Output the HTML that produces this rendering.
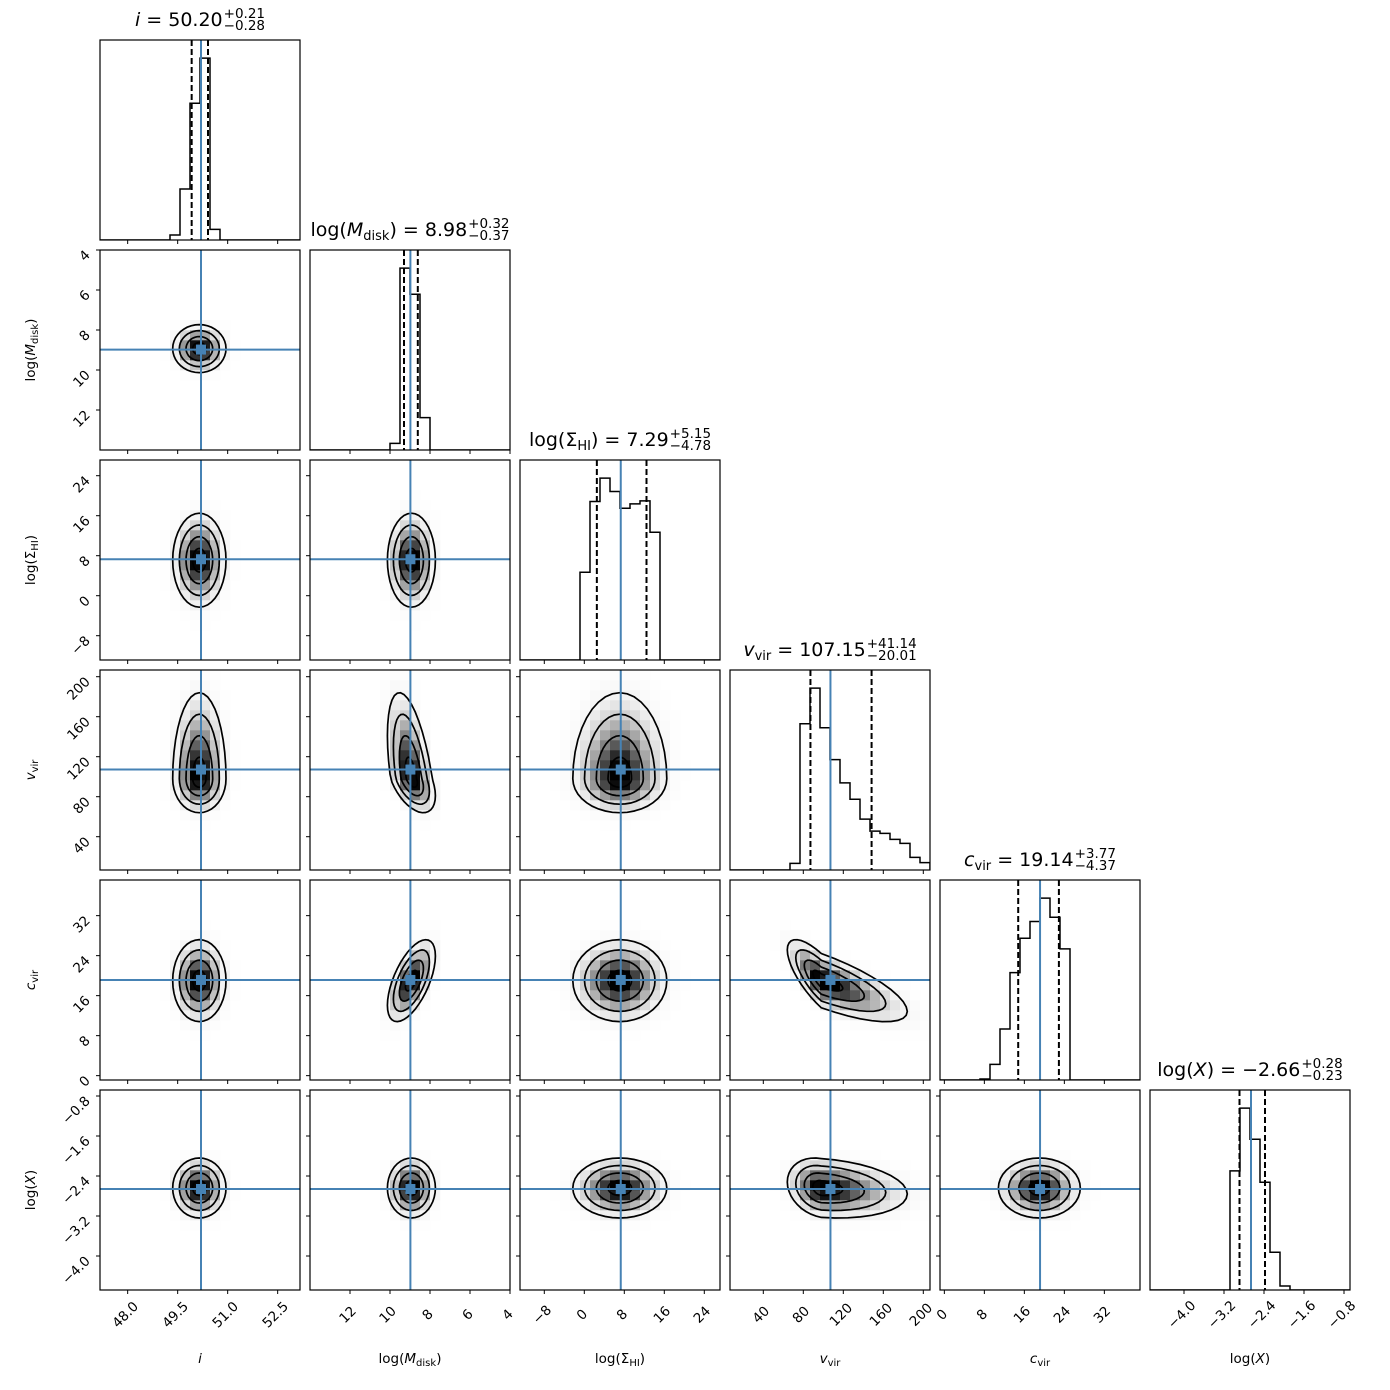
<!DOCTYPE html>
<html><head><meta charset="utf-8">
<style>
html,body{margin:0;padding:0;background:#fff;}
#wrap{position:relative;width:1390px;height:1390px;overflow:hidden;font-family:"DejaVu Sans","Liberation Sans",sans-serif;}
svg{position:absolute;left:0;top:0;}
.title{position:absolute;width:200px;display:flex;justify-content:center;align-items:center;font-size:19px;color:#000;white-space:nowrap;}
.stack{display:inline-flex;flex-direction:column;font-size:13.5px;line-height:12px;margin-left:1px;}
.title sub{font-size:13px;vertical-align:-4px;line-height:0;}
</style></head>
<body>
<div id="wrap">
<svg id="svg" width="1390" height="1390"></svg>
</div>
<script>
// ---- data ----
const paramNames = ["i","log_Mdisk","log_SigmaHI","v_vir","c_vir","log_X"];
const medians = [50.20, 8.98, 7.29, 107.15, 19.14, -2.66];
const errPlus = [0.21, 0.32, 5.15, 41.14, 3.77, 0.28];
const errMinus = [0.28, 0.37, 4.78, 20.01, 4.37, 0.23];
const axisLo = [47.17, 14, -12.86, 6.7, -0.87, -4.68];
const axisHi = [53.17, 4, 27.14, 206.7, 39.13, -0.68];
const ticksI = [48.0, 49.5, 51.0, 52.5];
const ticksMdisk = [12, 10, 8, 6, 4];
const ticksSigma = [-8, 0, 8, 16, 24];
const ticksVvir = [40, 80, 120, 160, 200];
const ticksCvir = [0, 8, 16, 24, 32];
const ticksX = [-4.0, -3.2, -2.4, -1.6, -0.8];
const tickLabelsI = ["48.0","49.5","51.0","52.5"];
const tickLabelsMdisk = ["12","10","8","6","4"];
const tickLabelsSigma = ["\u22128","0","8","16","24"];
const tickLabelsVvir = ["40","80","120","160","200"];
const tickLabelsCvir = ["0","8","16","24","32"];
const tickLabelsX = ["\u22124.0","\u22123.2","\u22122.4","\u22121.6","\u22120.8"];
// histogram counts (20 bins across each axis range, from axis start)
const histI =     [0,0,0,0,0,0,0,15,153,410,545,32,0,0,0,0,0,0,0,0];
const histMdisk = [0,0,0,0,0,0,0,0,20,545,467,97,0,0,0,0,0,0,0,0];
const histSigma = [0,0,0,0,0,0,263,475,545,505,455,468,477,383,0,0,0,0,0,0];
const histVvir =  [0,0,0,0,0,0,20,440,547,428,332,262,213,153,117,110,92,80,38,22];
const histCvir =  [0,0,0,0,3,47,153,322,425,475,545,488,393,0,0,0,0,0,0,0];
const histX =     [0,0,0,0,0,0,0,0,357,545,452,323,113,12,0,0,0,0,0,0];
// 2D density model (mode, lower / upper spread in data units)
const modeCenters = [50.15, 8.93, 7.1, 98, 19.0, -2.64];
const spreadLo = [0.4, 0.6, 4.7, 17, 4.1, 0.3];
const spreadHi = [0.4, 0.6, 4.7, 43, 4.1, 0.3];
const corrPairs = [[1,3,0.5],[1,4,-0.6],[3,4,-0.75],[3,5,-0.2]];
const contourSigmas = [0.5, 1, 1.5, 2];

const hists = [histI,histMdisk,histSigma,histVvir,histCvir,histX];
const ticks = [ticksI,ticksMdisk,ticksSigma,ticksVvir,ticksCvir,ticksX];
const tickLabels = [tickLabelsI,tickLabelsMdisk,tickLabelsSigma,tickLabelsVvir,tickLabelsCvir,tickLabelsX];

const NS = "http://www.w3.org/2000/svg";
const svg = document.getElementById("svg");
const BLUE = "#4682b4";
const N = 6, SIZE = 200, GAP = 10, X0 = 100, Y0 = 40;
function px0(c){return X0 + c*(SIZE+GAP);}
function py0(r){return Y0 + r*(SIZE+GAP);}
function sx(k, c, v){return px0(c) + (v-axisLo[k])/(axisHi[k]-axisLo[k])*SIZE;}
function sy(k, r, v){return py0(r) + SIZE - (v-axisLo[k])/(axisHi[k]-axisLo[k])*SIZE;}
function el(tag, attrs, parent){const e=document.createElementNS(NS,tag);for(const a in attrs)e.setAttribute(a,attrs[a]);(parent||svg).appendChild(e);return e;}
function rho(a,b){for(const p of corrPairs){if((p[0]===a&&p[1]===b)||(p[0]===b&&p[1]===a))return p[2];}return 0;}

const defs = el("defs",{});
for(let r=0;r<N;r++)for(let c=0;c<=r;c++){
  const cp = el("clipPath",{id:"clip"+r+"_"+c},defs);
  el("rect",{x:px0(c),y:py0(r),width:SIZE,height:SIZE},cp);
}

// ---- diagonal histograms ----
for(let k=0;k<N;k++){
  const g = el("g",{"clip-path":"url(#clip"+k+"_"+k+")"});
  
  
  const h = hists[k]; const mx = Math.max(...h)*1.1;
  const L = px0(k), B = py0(k)+SIZE, bw = SIZE/h.length;
  let d = "M"+L+","+B;
  h.forEach((cnt,i)=>{const y = B - cnt/mx*SIZE; d += " L"+(L+i*bw)+","+y+" L"+(L+(i+1)*bw)+","+y;});
  d += " L"+(L+SIZE)+","+B;
  const p = el("path",{d:d,fill:"none",stroke:"#000","stroke-width":1.5},g);
  
  
  [medians[k]-errMinus[k], medians[k]+errPlus[k]].forEach((q,qi)=>{
    const x = sx(k,k,q);
    const ln = el("line",{x1:x,x2:x,y1:py0(k),y2:B,stroke:"#000","stroke-width":2,"stroke-dasharray":"6,3"},g);
    
    
  });
  const xm = sx(k,k,medians[k]);
  const ml = el("line",{x1:xm,x2:xm,y1:py0(k),y2:B,stroke:BLUE,"stroke-width":2},g);
  
  
}

// ---- 2D panels ----
function density(a,b,xv,yv){
  const ca=modeCenters[a], cb=modeCenters[b], p=rho(a,b);
  const u=(xv-ca)/(xv>ca?spreadHi[a]:spreadLo[a]);
  const v=(yv-cb)/(yv>cb?spreadHi[b]:spreadLo[b]);
  const r2=(u*u-2*p*u*v+v*v)/(1-p*p);
  return Math.exp(-0.5*r2);
}
for(let r=1;r<N;r++)for(let c=0;c<r;c++){
  const a=c, b=r;
  const g = el("g",{"clip-path":"url(#clip"+r+"_"+c+")"});
  
  
  const nb=20, cw=SIZE/nb;
  for(let i=0;i<nb;i++)for(let j=0;j<nb;j++){
    const xv = axisLo[a]+(i+0.5)/nb*(axisHi[a]-axisLo[a]);
    const yv = axisLo[b]+(j+0.5)/nb*(axisHi[b]-axisLo[b]);
    const d = density(a,b,xv,yv);
    if(d<0.02) continue;
    const gv = Math.round(255*(1-Math.min(1,Math.pow(d,1.6)*1.1)));
    const cell = el("rect",{x:px0(c)+i*cw,y:py0(r)+SIZE-(j+1)*cw,width:cw+0.3,height:cw+0.3,fill:"rgb("+gv+","+gv+","+gv+")"},g);
    
    
  }
  const p = rho(a,b), sq = Math.sqrt(1-p*p);
  contourSigmas.forEach(s=>{
    let d="";
    for(let t=0;t<40;t++){
      const th = t/40*2*Math.PI;
      const ua = Math.cos(th)*s, vb = (p*Math.cos(th)+sq*Math.sin(th))*s;
      const xv = modeCenters[a] + ua*(ua>0?spreadHi[a]:spreadLo[a]);
      const yv = modeCenters[b] + vb*(vb>0?spreadHi[b]:spreadLo[b]);
      d += (t?" L":"M")+sx(a,c,xv).toFixed(1)+","+sy(b,r,yv).toFixed(1);
    }
    const cl = el("path",{d:d+" Z",fill:"none",stroke:"#000","stroke-width":1.7},g);
    
    
  });
  const xm = sx(a,c,medians[a]), ym = sy(b,r,medians[b]);
  const vl = el("line",{x1:xm,x2:xm,y1:py0(r),y2:py0(r)+SIZE,stroke:BLUE,"stroke-width":2},g);
  
  
  const hl = el("line",{x1:px0(c),x2:px0(c)+SIZE,y1:ym,y2:ym,stroke:BLUE,"stroke-width":2},g);
  
  
  const mk = el("rect",{x:xm-5,y:ym-5,width:10,height:10,fill:BLUE},g);
  
  
}

// ---- frames & ticks ----
for(let r=0;r<N;r++)for(let c=0;c<=r;c++){
  const fr = el("rect",{x:px0(c),y:py0(r),width:SIZE,height:SIZE,fill:"none",stroke:"#000","stroke-width":1.2});
  
  
  const B = py0(r)+SIZE;
  ticks[c].forEach((tv,ti)=>{
    const x = sx(c,c,tv);
    el("line",{x1:x,x2:x,y1:B,y2:B+4,stroke:"#000","stroke-width":1});
    if(r===N-1){
      const t = el("text",{x:x-2,y:1315,"font-size":13.5,"text-anchor":"middle","dominant-baseline":"central",transform:"rotate(-45 "+(x-2)+" 1315)"});
      t.textContent = tickLabels[c][ti];
      
      
    }
  });
  if(r!==c){
    ticks[r].forEach((tv,ti)=>{
      const y = sy(r,r,tv);
      el("line",{x1:px0(c)-4,x2:px0(c),y1:y,y2:y,stroke:"#000","stroke-width":1});
      if(c===0){
        const t = el("text",{x:88,y:y+3,"font-size":13.5,"text-anchor":"end","dominant-baseline":"central",transform:"rotate(-45 88 "+(y+3)+")"});
        t.textContent = tickLabels[r][ti];
        
        
      }
    });
  }
}

// ---- axis labels ----
const labelHTML = [
  '<tspan font-style="italic">i</tspan>',
  'log(<tspan font-style="italic">M</tspan><tspan dy="3" font-size="10">disk</tspan><tspan dy="-3">)</tspan>',
  'log(Σ<tspan dy="3" font-size="10">HI</tspan><tspan dy="-3">)</tspan>',
  '<tspan font-style="italic">v</tspan><tspan dy="3" font-size="10">vir</tspan>',
  '<tspan font-style="italic">c</tspan><tspan dy="3" font-size="10">vir</tspan>',
  'log(<tspan font-style="italic">X</tspan>)'
];
for(let k=0;k<N;k++){
  const cx = px0(k)+SIZE/2;
  const t = el("text",{x:cx,y:1363,"font-size":13.5,"text-anchor":"middle"});
  t.innerHTML = labelHTML[k];
  
  
  if(k>0){
    const cy = py0(k)+SIZE/2;
    const ty = el("text",{x:35,y:cy,"font-size":13.5,"text-anchor":"middle",transform:"rotate(-90 35 "+cy+")"});
    ty.innerHTML = labelHTML[k];
    
    
  }
}

// ---- titles ----
const titleMain = [
  '<i>i</i>&nbsp;=&nbsp;',
  'log(<i>M</i><sub>disk</sub>)&nbsp;=&nbsp;',
  'log(Σ<sub>HI</sub>)&nbsp;=&nbsp;',
  '<i>v</i><sub>vir</sub>&nbsp;=&nbsp;',
  '<i>c</i><sub>vir</sub>&nbsp;=&nbsp;',
  'log(<i>X</i>)&nbsp;=&nbsp;'
];
const wrap = document.getElementById("wrap");
function fmt(v){return (v<0?"\u2212":"")+Math.abs(v).toFixed(2);}
for(let k=0;k<N;k++){
  const d = document.createElement("div");
  d.className="title";
  d.style.left = px0(k)+"px";
  d.style.top = (py0(k)-34)+"px";
  d.style.height = "28px";
  d.innerHTML = '<span>'+titleMain[k]+fmt(medians[k])+'</span><span class="stack"><span>+'+errPlus[k].toFixed(2)+'</span><span>\u2212'+errMinus[k].toFixed(2)+'</span></span>';
  
  
  wrap.appendChild(d);
}
</script>
</body></html>
